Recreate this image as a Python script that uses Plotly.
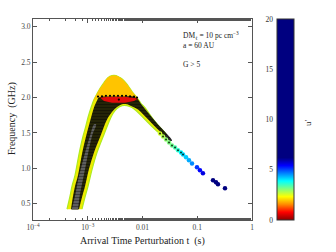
import plotly.graph_objects as go

# ---------------- data ----------------
# outer band of the (t, f) distribution (u' ~ 2-3, yellow)
BAND_T = [4.18e-4, 4.74e-4, 5.15e-4, 5.85e-4, 6.64e-4, 7.21e-4, 8.18e-4, 9.29e-4, 1.01e-3, 1.15e-3,
          1.30e-3, 1.48e-3, 1.67e-3, 1.98e-3, 2.34e-3, 2.77e-3, 3.28e-3, 3.88e-3, 4.59e-3, 5.43e-3,
          6.43e-3, 7.94e-3, 9.40e-3, 1.11e-2, 1.49e-2, 2.09e-2, 2.69e-2,
          2.09e-2, 1.49e-2, 1.11e-2, 7.94e-3, 6.43e-3, 5.21e-3, 4.23e-3, 3.42e-3, 2.89e-3, 2.55e-3,
          1.98e-3, 1.48e-3, 1.20e-3, 1.01e-3, 8.91e-4, 7.85e-4]
BAND_F = [0.423, 0.606, 0.746, 0.901, 1.127, 1.268, 1.451, 1.606, 1.718, 1.859,
          1.972, 2.056, 2.127, 2.211, 2.282, 2.310, 2.310, 2.282, 2.239, 2.169,
          2.085, 2.000, 1.915, 1.859, 1.718, 1.577, 1.479,
          1.493, 1.592, 1.690, 1.803, 1.859, 1.887, 1.887, 1.845, 1.775, 1.690,
          1.479, 1.225, 0.986, 0.746, 0.592, 0.423]

# cap of the band near the peak (u' ~ 1.7, orange-yellow)
CAP_T = [1.25e-3, 1.30e-3, 1.48e-3, 1.67e-3, 1.98e-3, 2.34e-3, 2.77e-3, 3.28e-3, 3.88e-3, 4.59e-3,
         5.43e-3, 6.43e-3, 7.94e-3, 9.00e-3, 7.60e-3, 4.79e-3, 2.55e-3, 1.54e-3]
CAP_F = [1.944, 1.972, 2.056, 2.127, 2.211, 2.282, 2.310, 2.310, 2.282, 2.239,
         2.169, 2.085, 2.000, 1.930, 1.986, 2.014, 2.014, 2.000]

# region of the G > 5 subset (black), low-frequency branch and turnover
CORE_T = [4.94e-4, 5.38e-4, 5.85e-4, 6.64e-4, 7.53e-4, 8.18e-4, 9.29e-4, 1.05e-3, 1.15e-3, 1.30e-3,
          1.48e-3, 1.60e-3, 2.07e-3, 3.15e-3, 4.79e-3, 6.70e-3, 7.94e-3, 9.80e-3, 1.37e-2, 1.92e-2,
          2.69e-2, 3.46e-2, 3.18e-2, 2.09e-2, 1.49e-2, 1.11e-2, 8.28e-3, 6.17e-3, 5.21e-3, 4.23e-3,
          3.42e-3, 2.77e-3, 2.25e-3, 1.75e-3, 1.30e-3, 1.05e-3, 8.91e-4, 7.85e-4, 6.92e-4]
CORE_F = [0.423, 0.606, 0.746, 0.901, 1.127, 1.268, 1.451, 1.606, 1.718, 1.859,
          1.958, 2.000, 2.014, 2.014, 2.014, 2.014, 1.986, 1.890, 1.755, 1.620,
          1.500, 1.394, 1.386, 1.520, 1.635, 1.735, 1.830, 1.880, 1.905, 1.905,
          1.865, 1.795, 1.690, 1.479, 1.225, 0.986, 0.746, 0.592, 0.423]

# grey centre of the low-frequency branch
GREY_T = [5.10e-4, 5.95e-4, 6.70e-4, 7.85e-4, 9.29e-4, 1.12e-3, 1.30e-3,
          1.42e-3, 1.22e-3, 1.05e-3, 9.29e-4, 8.18e-4, 7.21e-4, 6.64e-4]
GREY_F = [0.420, 0.634, 0.845, 1.056, 1.268, 1.479, 1.620,
          1.620, 1.479, 1.268, 1.056, 0.845, 0.634, 0.420]

# lowest u' (red) just under the turnover
RED_T = [1.67e-3, 2.55e-3, 4.79e-3, 8.28e-3, 7.00e-3, 4.79e-3, 2.77e-3, 1.98e-3]
RED_F = [2.000, 2.010, 2.010, 1.986, 1.950, 1.925, 1.925, 1.950]

# G > 5 points on the turnover ridge
RIDGE_T = [1.54e-3, 1.82e-3, 2.15e-3, 2.55e-3, 3.01e-3, 3.57e-3, 4.23e-3, 5.00e-3, 5.92e-3, 7.00e-3, 7.94e-3, 3.70e-3]
RIDGE_F = [2.014, 2.018, 2.024, 2.024, 2.024, 2.024, 2.024, 2.024, 2.018, 2.014, 2.000, 1.972]

# high-t tail: individual points coloured by u'
TAIL_T = [2.09e-2, 2.37e-2, 2.69e-2, 3.05e-2, 3.46e-2, 3.93e-2, 4.45e-2, 5.05e-2, 5.50e-2, 6.24e-2,
          7.06e-2, 8.02e-2, 9.89e-2, 0.112, 0.127, 0.194, 0.220, 0.239, 0.321]
TAIL_F = [1.493, 1.451, 1.408, 1.366, 1.324, 1.296, 1.254, 1.225, 1.197, 1.155,
          1.113, 1.070, 1.014, 0.972, 0.930, 0.831, 0.803, 0.775, 0.718]
TAIL_U = [2.6, 2.8, 3.0, 3.1, 3.2, 3.4, 3.6, 3.9, 4.1, 4.2,
          4.4, 4.6, 5.1, 5.4, 5.6, 7.0, 8.0, 9.0, 12.0]
TAIL_G_T = TAIL_T[:9]
TAIL_G_F = TAIL_F[:9]

X_TICKS = [1e-4, 1e-3, 1e-2, 1e-1, 1]
X_LABELS = ["10<sup>\u22124</sup>", "10<sup>\u22123</sup>", "0.01", "0.1", "1"]
Y_TICKS = [0.5, 1.0, 1.5, 2.0, 2.5, 3.0]
CB_TICKS = [0, 5, 10, 15, 20]

# ---------------- styling ----------------
FONT = "Liberation Serif"
JET_R = [
    [0.0, "rgb(140,0,0)"],
    [0.039, "rgb(255,0,0)"],
    [0.078, "rgb(255,140,0)"],
    [0.116, "rgb(255,255,0)"],
    [0.155, "rgb(128,255,128)"],
    [0.194, "rgb(0,255,255)"],
    [0.233, "rgb(0,128,255)"],
    [0.271, "rgb(0,0,255)"],
    [0.31, "rgb(0,0,128)"],
    [1.0, "rgb(0,0,128)"],
]

XD = [33 / 336, 252 / 336]
YD = [1 - 220 / 252, 1 - 19 / 252]
CBX = [277 / 336, 294 / 336]

fig = go.Figure()


def poly(xs, ys, fill, line_color=None, width=0, shape="linear", pattern=None):
    kw = {}
    if pattern:
        kw["fillpattern"] = pattern
    fig.add_trace(go.Scatter(
        x=xs, y=ys, mode="lines", fill="toself", fillcolor=fill,
        line=dict(color=line_color or fill, width=width, shape=shape),
        hoverinfo="skip", showlegend=False, **kw))


poly(BAND_T, BAND_F, "rgb(240,236,0)", "rgb(175,235,30)", 1.2, shape="spline")
poly(CAP_T, CAP_F, "rgb(255,196,0)", shape="spline")
poly(CORE_T, CORE_F, "rgba(12,12,12,0.85)", shape="spline",
     pattern=dict(shape="-", fgcolor="rgb(0,0,0)", size=3, solidity=0.6))
poly(GREY_T, GREY_F, "rgba(110,110,118,0.8)", shape="spline",
     pattern=dict(shape="-", fgcolor="rgb(30,30,30)", size=3, solidity=0.4))
poly(RED_T, RED_F, "rgb(225,10,10)")

fig.add_trace(go.Scatter(x=RIDGE_T, y=RIDGE_F, mode="markers",
                         marker=dict(color="black", size=2.2), hoverinfo="skip", showlegend=False))

fig.add_trace(go.Scatter(
    x=TAIL_T, y=TAIL_F, mode="markers",
    marker=dict(color=TAIL_U, colorscale=JET_R, cmin=0, cmax=20, size=4.5,
                showscale=True,
                colorbar=dict(x=CBX[0], xanchor="left", xpad=0, ypad=0,
                              y=YD[0], yanchor="bottom", len=YD[1] - YD[0], lenmode="fraction",
                              thickness=17,
                              outlinewidth=1, outlinecolor="#333",
                              showticklabels=False, ticks="")),
    hoverinfo="skip", showlegend=False))
fig.add_trace(go.Scatter(x=TAIL_G_T, y=TAIL_G_F, mode="markers",
                         marker=dict(color="rgba(0,0,0,0.8)", size=2), hoverinfo="skip", showlegend=False))

# dummy trace for the colour-bar tick axis
fig.add_trace(go.Scatter(x=[0.5], y=[10], xaxis="x2", yaxis="y2", mode="markers",
                         marker=dict(size=0.1, color="rgba(0,0,0,0)"), showlegend=False, hoverinfo="skip"))

axis_common = dict(showline=True, linecolor="#555", linewidth=1, mirror="allticks",
                   ticks="inside", tickcolor="#555", ticklen=4, showgrid=False, zeroline=False,
                   tickfont=dict(family=FONT, size=7.5, color="#444"), automargin=False)

fig.update_layout(
    width=336, height=252, margin=dict(l=0, r=0, t=0, b=0),
    paper_bgcolor="white", plot_bgcolor="white",
    xaxis=dict(type="log", range=[-4, 0], domain=XD, tickvals=X_TICKS, ticktext=X_LABELS,
               minor=dict(ticks="inside", ticklen=2, tickcolor="#555", showgrid=False),
               **axis_common),
    yaxis=dict(range=[0.27, 3.11], domain=YD, tickvals=Y_TICKS, tickformat=".1f", **axis_common),
    xaxis2=dict(domain=CBX, anchor="y2", visible=False, range=[0, 1]),
    yaxis2=dict(domain=YD, anchor="x2", range=[0, 20], tickvals=CB_TICKS, side="left",
                showline=False, ticks="", showgrid=False, zeroline=False, ticklabelstandoff=3,
                tickfont=dict(family=FONT, size=7.5, color="#333"), automargin=False),
    annotations=[
        dict(text="DM<sub>\u2113</sub> = 10 pc cm<sup>\u22123</sup>", x=181 / 336, y=1 - 36 / 252,
             xref="paper", yref="paper", xanchor="left", yanchor="middle", showarrow=False,
             font=dict(family=FONT, size=7.5, color="#222")),
        dict(text="a = 60 AU", x=181 / 336, y=1 - 45 / 252,
             xref="paper", yref="paper", xanchor="left", yanchor="middle", showarrow=False,
             font=dict(family=FONT, size=7.5, color="#222")),
        dict(text="G > 5", x=181 / 336, y=1 - 64 / 252,
             xref="paper", yref="paper", xanchor="left", yanchor="middle", showarrow=False,
             font=dict(family=FONT, size=7.5, color="#222")),
        dict(text="Arrival Time Perturbation t  (s)", x=142 / 336, y=1 - 241 / 252,
             xref="paper", yref="paper", xanchor="center", yanchor="middle", showarrow=False,
             font=dict(family=FONT, size=10, color="#222")),
        dict(text="Frequency  (GHz)", x=12 / 336, y=1 - 119 / 252, textangle=-90,
             xref="paper", yref="paper", xanchor="center", yanchor="middle", showarrow=False,
             font=dict(family=FONT, size=10, color="#222")),
        dict(text="u\u2032", x=308 / 336, y=1 - 123 / 252, textangle=-90,
             xref="paper", yref="paper", xanchor="center", yanchor="middle", showarrow=False,
             font=dict(family=FONT, size=9, color="#222")),
    ],
)

fig.write_html("out.html", config={"displayModeBar": False},
               post_script="document.body.style.margin='0px';document.body.style.overflow='hidden';")
